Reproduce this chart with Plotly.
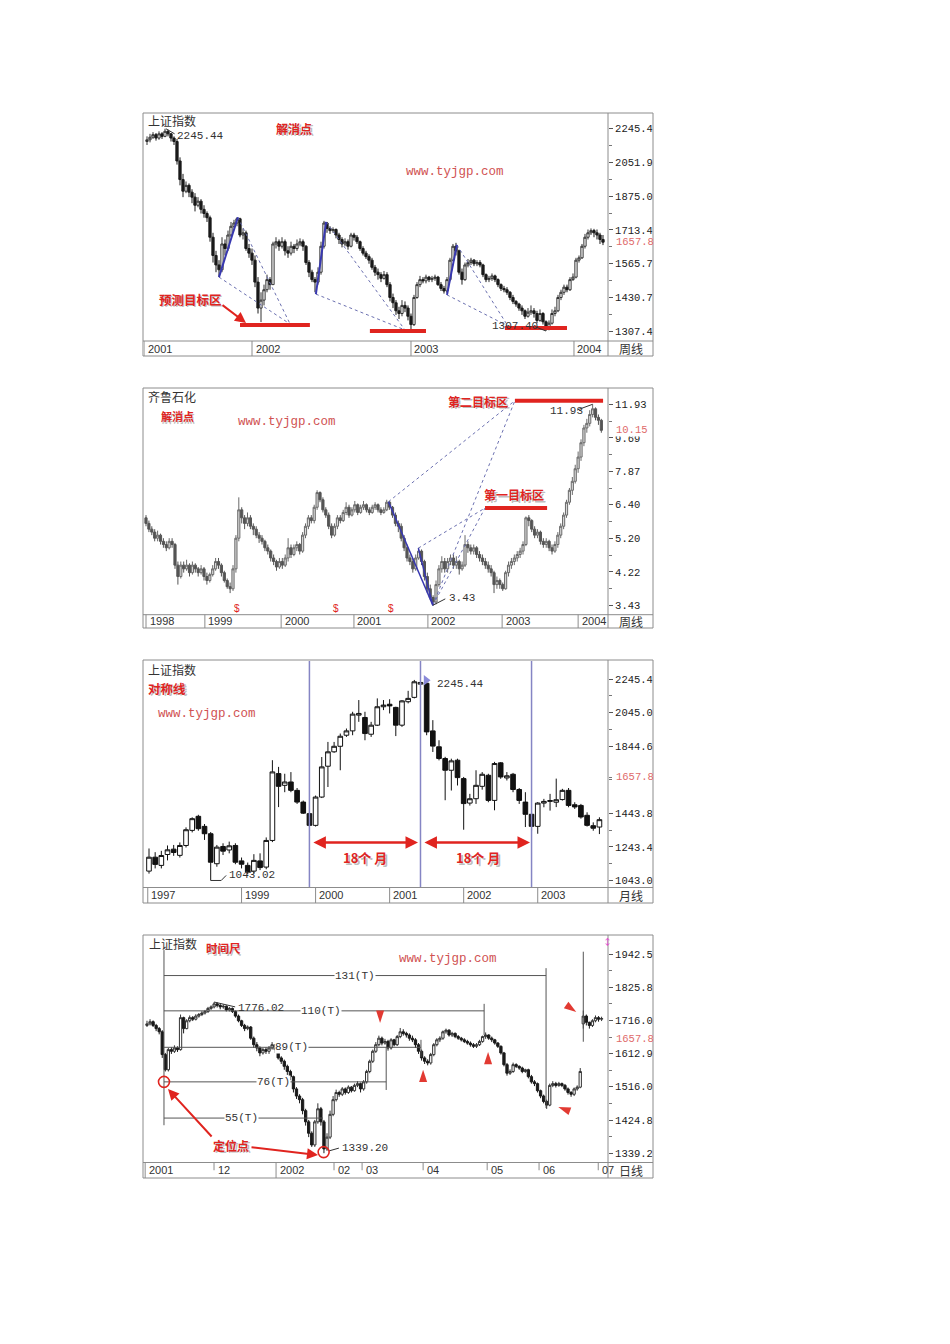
import math
import plotly.graph_objects as go

W, H = 950, 1344
CJK = "Noto Sans CJK SC"
MONO = "Liberation Mono"
SANS = "Liberation Sans"
RED = "#e0241f"
WWW_RED = "#d05252"
DOT = "#6b70b0"
BLUE = "#3838b0"

# ---------------- Panel 1 : 上证指数 周线 ----------------
p1_open0 = 2170
p1_close = [2180,2195,2210,2190,2215,2200,2230,2215,2190,2170,
            2060,1960,1900,1930,1895,1870,1830,1850,1810,1790,
            1770,1680,1600,1560,1540,1650,1630,1690,1730,1745,
            1765,1690,1700,1630,1610,1580,1490,1390,1420,1460,
            1500,1480,1650,1660,1640,1660,1620,1610,1640,1630,
            1650,1660,1640,1570,1530,1500,1490,1530,1640,1745,
            1720,1710,1715,1690,1670,1650,1660,1640,1690,1680,
            1660,1630,1610,1595,1580,1550,1530,1520,1505,1520,
            1480,1430,1410,1380,1370,1400,1390,1360,1330,1430,
            1480,1500,1495,1510,1500,1505,1510,1480,1465,1455,
            1500,1580,1640,1620,1530,1500,1560,1570,1580,1565,
            1570,1560,1520,1500,1505,1515,1500,1480,1465,1460,
            1450,1430,1415,1405,1390,1380,1360,1375,1380,1370,
            1345,1370,1340,1315,1335,1370,1380,1430,1450,1470,
            1460,1500,1510,1580,1590,1640,1680,1700,1710,1700,
            1690,1670,1657.8]
p1_high = [2200,2215,2225,2220,2230,2225,2245.44,2240,2220,2200,
           2185,2080,1990,1950,1940,1910,1890,1870,1860,1830,
           1800,1780,1700,1620,1580,1680,1670,1710,1750,1760,
           1772,1770,1720,1710,1650,1630,1600,1510,1450,1480,
           1520,1510,1660,1680,1670,1680,1670,1640,1660,1650,
           1670,1675,1670,1645,1580,1540,1510,1550,1660,1755,
           1750,1730,1725,1720,1700,1680,1675,1670,1700,1700,
           1690,1665,1640,1620,1605,1590,1560,1545,1530,1535,
           1530,1490,1445,1420,1395,1420,1415,1400,1370,1440,
           1490,1515,1510,1520,1515,1515,1520,1515,1490,1475,
           1510,1590,1650,1655,1625,1545,1570,1585,1590,1585,
           1580,1580,1565,1525,1515,1525,1520,1505,1485,1475,
           1470,1455,1440,1420,1410,1400,1385,1390,1400,1390,
           1380,1385,1375,1345,1345,1385,1395,1440,1460,1480,
           1480,1510,1525,1590,1600,1650,1695,1715,1720,1718,
           1715,1700,1690]
p1_low = [2150,2165,2185,2175,2180,2185,2195,2200,2170,2150,
          2040,1930,1870,1890,1870,1840,1800,1820,1790,1770,
          1750,1660,1570,1530,1510,1530,1600,1620,1680,1720,
          1730,1680,1670,1620,1590,1560,1470,1370,1339,1400,
          1450,1460,1480,1630,1620,1630,1600,1590,1600,1610,
          1620,1640,1620,1560,1510,1490,1450,1480,1520,1630,
          1700,1695,1700,1675,1650,1635,1640,1625,1635,1665,
          1650,1620,1600,1585,1565,1540,1515,1500,1490,1500,
          1470,1415,1390,1365,1350,1360,1375,1345,1310,1325,
          1425,1470,1485,1485,1490,1490,1495,1475,1455,1445,
          1447,1495,1575,1600,1520,1480,1495,1550,1560,1555,
          1555,1550,1510,1490,1490,1495,1490,1470,1455,1450,
          1440,1420,1405,1395,1380,1365,1350,1355,1365,1355,
          1335,1340,1330,1307.4,1310,1330,1360,1375,1420,1440,
          1450,1455,1495,1505,1570,1585,1630,1670,1690,1680,
          1670,1650,1645]
p1_yticks = [2245.4, 2051.9, 1875.0, 1713.4, 1565.7, 1430.7, 1307.4]
p1_last = 1657.8
p1_dates = [(-1, "2001"), (35, "2002"), (88, "2003"), (142.33, "2004")]
p1_blue = [((24, 1510), (30.3, 1772)), ((56.3, 1443), (59.7, 1750)), ((100, 1440), (103.3, 1646))]
p1_dash = [((24, 1510), (47.7, 1332)), ((30.3, 1772), (47.7, 1332)),
           ((56.3, 1443), (86, 1311)), ((59.7, 1750), (86, 1311)),
           ((100, 1440), (120.3, 1325)), ((103.3, 1646), (120.3, 1325))]
p1_targets = [((31, 1328.6), (54.3, 1328.6)), ((74.3, 1307.4), (93, 1307.4)), ((119.3, 1318), (140, 1318))]
p1_conn = [((6.3, 2245.44), (9.2, 2215)), ((129.5, 1322), (133, 1307.4))]

# ---------------- Panel 2 : 齐鲁石化 周线 ----------------
p2_open0 = 5.9
p2_close = [5.7,5.5,5.4,5.2,5.3,5.1,5.0,4.9,5.1,5.0,
            4.4,4.1,4.4,4.3,4.4,4.2,4.4,4.3,4.2,4.3,
            4.1,4.0,4.15,4.3,4.5,4.4,4.2,4.0,3.85,3.8,
            4.3,5.2,6.2,5.9,5.7,5.9,5.6,5.5,5.3,5.2,
            5.1,4.9,4.8,4.6,4.5,4.35,4.5,4.4,4.6,4.9,
            4.7,4.9,5.0,4.8,5.3,5.6,5.9,5.8,6.3,6.9,
            6.6,6.2,6.0,5.6,5.3,5.6,5.9,5.8,6.1,6.3,
            6.0,6.2,6.4,6.1,6.3,6.4,6.2,6.1,6.3,6.4,
            6.2,6.1,6.2,6.5,6.3,6.0,5.7,5.6,5.2,4.9,
            4.6,4.5,4.3,4.6,4.8,4.5,4.1,3.8,3.6,3.5,
            3.9,4.3,4.5,4.3,4.5,4.6,4.4,4.5,4.3,4.4,
            5.0,4.9,4.8,4.9,4.7,4.6,4.5,4.4,4.3,4.2,
            3.9,4.0,3.9,3.8,4.2,4.4,4.5,4.6,4.7,4.8,
            5.0,5.9,5.8,5.5,5.3,5.4,5.1,5.0,5.1,4.9,
            4.8,5.0,5.3,5.6,6.0,6.5,7.0,7.4,8.0,8.6,
            9.4,10.3,10.6,11.2,11.6,11.0,10.8,10.15]
p2_high = [6.0,5.8,5.6,5.5,5.45,5.35,5.2,5.1,5.2,5.2,
           5.05,4.5,4.5,4.5,4.55,4.45,4.5,4.45,4.35,4.4,
           4.35,4.2,4.2,4.4,4.6,4.6,4.45,4.25,4.05,3.95,
           4.4,5.3,6.7,6.3,6.0,6.1,6.0,5.7,5.6,5.4,
           5.3,5.15,5.0,4.85,4.7,4.55,4.6,4.6,4.7,5.2,
           5.0,5.0,5.1,5.05,5.4,5.7,6.0,6.0,6.4,7.0,
           6.95,6.7,6.3,6.1,5.7,5.7,6.0,6.0,6.2,6.5,
           6.4,6.3,6.55,6.45,6.4,6.55,6.45,6.3,6.4,6.5,
           6.45,6.3,6.3,6.6,6.55,6.35,6.1,5.8,5.7,5.3,
           5.0,4.7,4.6,4.7,4.9,4.85,4.55,4.2,3.9,3.65,
           4.0,4.4,4.65,4.6,4.6,4.7,4.7,4.65,4.55,4.5,
           5.3,5.1,5.0,5.0,4.95,4.8,4.7,4.6,4.5,4.4,
           4.25,4.1,4.05,3.95,4.25,4.5,4.6,4.7,4.8,4.9,
           5.1,5.95,6.0,5.85,5.6,5.5,5.45,5.2,5.2,5.15,
           5.0,5.1,5.4,5.7,6.1,6.6,7.1,7.6,8.2,8.9,
           9.6,10.5,10.9,11.5,11.93,11.7,11.2,10.9]
p2_low = [5.6,5.4,5.3,5.1,5.1,5.0,4.9,4.8,4.85,4.9,
          4.3,3.9,4.05,4.2,4.25,4.1,4.15,4.2,4.1,4.15,
          4.0,3.9,3.95,4.1,4.25,4.3,4.1,3.95,3.8,3.7,
          3.75,4.2,5.1,5.7,5.5,5.6,5.5,5.3,5.2,5.05,
          5.0,4.8,4.7,4.5,4.4,4.25,4.3,4.3,4.35,4.5,
          4.6,4.65,4.8,4.7,4.75,5.2,5.5,5.7,5.7,6.2,
          6.5,6.1,5.9,5.5,5.2,5.25,5.5,5.7,5.75,6.0,
          5.9,5.95,6.1,6.0,6.05,6.2,6.1,6.0,6.05,6.2,
          6.1,6.0,6.05,6.15,6.2,5.9,5.6,5.4,5.1,4.8,
          4.5,4.4,4.2,4.25,4.55,4.4,4.0,3.7,3.55,3.43,
          3.45,3.85,4.2,4.2,4.2,4.4,4.3,4.3,4.15,4.25,
          4.35,4.75,4.7,4.7,4.6,4.5,4.4,4.3,4.2,4.1,
          3.7,3.8,3.8,3.75,3.78,4.1,4.3,4.4,4.5,4.6,
          4.7,4.95,5.6,5.4,5.2,5.2,5.0,4.9,4.9,4.8,
          4.7,4.75,4.9,5.2,5.5,5.9,6.4,6.8,7.3,7.8,
          8.4,9.2,10.0,10.4,11.0,10.8,10.5,10.0]
p2_yticks = [11.93, 9.69, 7.87, 6.40, 5.20, 4.22, 3.43]
p2_last = 10.15
p2_dates = [(0, "1998"), (20.3, "1999"), (46.6, "2000"), (71.7, "2001"),
            (97.2, "2002"), (122.8, "2003"), (149.0, "2004")]
p2_blue = [((83.6, 6.52), (98.9, 3.43)), ((93.9, 4.89), (98.9, 3.43))]
p2_dash = [((83.6, 6.52), (127.2, 12.2)), ((98.9, 3.43), (127.2, 12.2)),
           ((93.9, 4.89), (116.9, 6.27)), ((98.9, 3.43), (116.9, 6.27))]
p2_targets = [((127.2, 12.2), (157.6, 12.2)), ((116.9, 6.27), (138.3, 6.27))]
p2_conn = [((148.6, 11.51), (154, 11.93)), ((98.9, 3.43), (103.2, 3.57))]
p2_dollar = [31.4, 65.5, 84.5]

# ---------------- Panel 3 : 上证指数 月线 ----------------
p3_open = [1099,1182,1133,1198,1230,1193,1252,1342,1426,1366,
           1322,1143,1246,1225,1252,1160,1133,1099,1160,1123,
           1282,1681,1611,1631,1581,1511,1442,1372,1541,1725,
           1811,1844,1910,1936,2030,2016,1916,1970,2080,2095,
           2076,1970,2110,2136,2215,2220,1936,1841,1771,1701,
           1761,1651,1505,1531,1605,1671,1521,1745,1655,1677,
           1586,1511,1438,1366,1505,1515,1510,1526,1581,1495,
           1491,1432,1370,1362]
p3_high = [1234,1212,1220,1252,1255,1270,1360,1420,1435,1380,
           1332,1255,1265,1275,1265,1180,1150,1200,1205,1300,
           1761,1721,1680,1690,1595,1520,1450,1550,1780,1870,
           1870,1920,1950,2050,2120,2050,1990,2130,2120,2125,
           2080,2120,2175,2240,2245.44,2230,2000,1880,1781,1770,
           1770,1661,1560,1701,1690,1680,1751,1750,1690,1685,
           1595,1570,1450,1511,1530,1560,1651,1590,1595,1510,
           1500,1450,1390,1420]
p3_low = [1084,1115,1115,1163,1190,1180,1240,1330,1340,1285,
          1043.02,1125,1195,1205,1140,1115,1080,1085,1105,1110,
          1272,1481,1570,1570,1500,1440,1365,1365,1535,1601,
          1805,1701,1900,1910,1990,1880,1900,1965,2060,2040,
          1905,1960,2100,2130,2180,1910,1810,1760,1522,1580,
          1610,1346,1490,1500,1585,1510,1462,1650,1640,1570,
          1500,1362,1340,1322,1480,1460,1481,1520,1480,1470,
          1412,1365,1340,1320]
p3_close = [1182,1139,1192,1226,1210,1252,1346,1412,1352,1322,
            1152,1242,1218,1250,1152,1140,1093,1163,1120,1282,
            1691,1605,1631,1581,1511,1445,1372,1541,1721,1811,
            1844,1904,1936,2036,2040,1920,1970,2080,2090,2085,
            1970,2115,2130,2229,2225,1930,1845,1771,1701,1757,
            1657,1502,1531,1611,1677,1521,1741,1661,1668,1586,
            1521,1438,1366,1505,1515,1520,1525,1581,1491,1482,
            1422,1372,1355,1406]
p3_yticks = [2245.4, 2045.0, 1844.6, 1443.8, 1243.4, 1043.0]
p3_last = 1657.8
p3_dates = [(-0.2, "1997"), (15, "1999"), (27, "2000"), (39, "2001"), (51, "2002"), (63, "2003")]
p3_sym = [26, 44, 62]
p3_arrows = [(26.4, 43.6), (44.4, 61.75)]
p3_arrow_y = 1270
p3_conn = [((10, 1043.02), (11.7, 1043.02)), ((11.7, 1043.02), (12.5, 1073))]

# ---------------- Panel 4 : 上证指数 日线 ----------------
p4_open0 = 1700
p4_gap_open = {143: 1705}
p4_close = [1705,1712,1700,1690,1680,1610,1565,1625,1620,1630,
            1625,1725,1690,1715,1725,1720,1730,1735,1740,1745,
            1755,1760,1770,1765,1760,1762,1750,1755,1745,1730,
            1715,1700,1690,1695,1660,1640,1630,1615,1625,1620,
            1630,1640,1625,1600,1590,1575,1560,1545,1510,1490,
            1480,1450,1420,1390,1360,1420,1455,1420,1350,1380,
            1440,1480,1500,1495,1510,1500,1515,1505,1520,1525,
            1510,1530,1560,1590,1620,1640,1660,1645,1650,1630,
            1655,1640,1665,1680,1675,1670,1660,1655,1640,1620,
            1600,1590,1585,1610,1640,1655,1660,1680,1685,1670,
            1675,1665,1660,1655,1650,1645,1640,1635,1640,1650,
            1665,1670,1660,1655,1645,1635,1615,1580,1555,1560,
            1580,1575,1570,1560,1565,1545,1530,1525,1505,1490,
            1475,1465,1520,1525,1520,1525,1520,1510,1500,1495,
            1510,1515,1560,1730,1710,1700,1715,1725,1720,1722]
p4_high = [1715,1720,1716,1705,1695,1685,1615,1630,1632,1638,
           1635,1735,1728,1720,1732,1730,1736,1740,1746,1750,
           1760,1765,1776.02,1775,1770,1768,1765,1760,1758,1748,
           1735,1718,1705,1700,1698,1665,1648,1635,1630,1632,
           1636,1648,1642,1628,1605,1595,1580,1565,1548,1515,
           1495,1485,1455,1425,1395,1425,1470,1460,1425,1390,
           1450,1490,1508,1505,1515,1514,1520,1518,1525,1532,
           1528,1535,1565,1595,1625,1648,1668,1665,1658,1655,
           1660,1658,1670,1692,1688,1680,1675,1668,1660,1645,
           1625,1605,1596,1615,1645,1660,1666,1684,1690,1688,
           1680,1678,1670,1664,1660,1655,1650,1645,1645,1655,
           1668,1678,1672,1665,1658,1648,1638,1618,1585,1566,
           1586,1584,1578,1574,1568,1568,1550,1535,1528,1508,
           1494,1480,1525,1532,1530,1530,1528,1524,1514,1504,
           1514,1520,1570,1748,1735,1712,1720,1732,1730,1728]
p4_low = [1695,1700,1695,1682,1672,1600,1560,1560,1612,1615,
          1618,1622,1675,1688,1710,1714,1716,1725,1730,1735,
          1740,1750,1755,1758,1752,1754,1745,1745,1740,1725,
          1710,1695,1682,1685,1655,1630,1620,1605,1610,1612,
          1612,1625,1615,1595,1582,1565,1550,1535,1500,1482,
          1470,1440,1410,1380,1355,1355,1415,1410,1339.2,1345,
          1375,1435,1475,1488,1490,1494,1496,1500,1502,1515,
          1500,1505,1525,1555,1585,1615,1635,1638,1640,1622,
          1625,1635,1636,1660,1668,1662,1652,1648,1630,1612,
          1592,1582,1578,1580,1605,1635,1648,1655,1674,1665,
          1664,1660,1655,1650,1645,1640,1634,1630,1630,1636,
          1646,1658,1655,1648,1640,1630,1610,1575,1548,1550,
          1556,1570,1565,1555,1556,1540,1525,1518,1500,1484,
          1470,1455,1462,1515,1514,1516,1515,1505,1494,1488,
          1490,1505,1512,1690,1700,1690,1695,1710,1712,1714]
p4_yticks = [1942.5, 1825.8, 1716.0, 1612.9, 1516.0, 1424.8, 1339.2]
p4_last = 1657.8
p4_dates = [(-0.6, "2001", True), (21.97, "12", False), (42.3, "2002", True), (61.3, "02", False),
            (70.5, "03", False), (90.5, "04", False), (111.5, "05", False), (128.5, "06", False),
            (147.9, "07", False)]
p4_origin = 5.57
p4_rulers = [(1866, 130.8, "131(T)", 68.2, 1892, 1457),
             (1747, 110.5, "110(T)", 57.0, 1770, 1670),
             (1632, 89.8, "89(T)", 47.2, 1655, 1603),
             (1530, 78.4, "76(T)", 41.3, 1632, 1507),
             (1430, 57.7, "55(T)", 31.1, 1430, 1430)]
p4_origin_span = (1957, 1411)
p4_extra_line = (143, 1951, 1649)
p4_circles = [(5.57, 1530), (57.9, 1342)]
p4_marks = [(76.4, 1708, 180), (90.5, 1565, 0), (111.8, 1618, 0), (134.8, 1460, 290), (140.7, 1743, 125)]
p4_conn = [((22, 1776.02), (28.9, 1760)), ((59.7, 1345), (62.9, 1352))]

# ---------------- layout geometry (pixels) ----------------
PX_L, PX_R, FR_L, FR_R = 144, 608, 143, 653
panels = [
    dict(ptop=114, pbot=341, ftop=113, fbot=356, xr=[-1, 153.67], yr=[3.1048, 3.3684], log=True,
         ticks=p1_yticks, fmt="{:.1f}", last=p1_last, tag="周线"),
    dict(ptop=389, pbot=614.7, ftop=388, fbot=628, xr=[-0.69, 159.3], yr=[0.5100, 1.1178], log=True,
         ticks=p2_yticks, fmt="{:.2f}", last=p2_last, tag="周线"),
    dict(ptop=661, pbot=887.5, ftop=660, fbot=903, xr=[-0.81, 74.39], yr=[1001.1, 2353.1], log=False,
         ticks=p3_yticks, fmt="{:.1f}", last=p3_last, tag="月线"),
    dict(ptop=936, pbot=1162.5, ftop=935, fbot=1178, xr=[-0.98, 151.1], yr=[3.1193, 3.3030], log=True,
         ticks=p4_yticks, fmt="{:.1f}", last=p4_last, tag="日线"),
]


def xa(n):
    return "x" if n == 1 else f"x{n}"


def ya(n):
    return "y" if n == 1 else f"y{n}"


def py(p):
    return 1 - p / H


def opens_from(open0, closes, gaps=None):
    o = [open0] + closes[:-1]
    if gaps:
        for k, v in gaps.items():
            o[k] = v
    return o


def candle(n, o, h, l, c, up_line, dn_line, up_fill="white", dn_fill=None):
    hh = [max(a, b, d) for a, b, d in zip(h, o, c)]
    ll = [min(a, b, d) for a, b, d in zip(l, o, c)]
    return go.Candlestick(
        x=list(range(len(c))), open=o, high=hh, low=ll, close=c,
        xaxis=xa(n), yaxis=ya(n), whiskerwidth=0,
        increasing=dict(line=dict(color=up_line, width=1), fillcolor=up_fill),
        decreasing=dict(line=dict(color=dn_line, width=1), fillcolor=dn_fill or dn_line),
        showlegend=False, hoverinfo="skip")


def segs(n, pairs, color, width, dash=None):
    xs, ys = [], []
    for (x0, y0), (x1, y1) in pairs:
        xs += [x0, x1, None]
        ys += [y0, y1, None]
    return go.Scatter(x=xs, y=ys, mode="lines", xaxis=xa(n), yaxis=ya(n),
                      line=dict(color=color, width=width, dash=dash),
                      showlegend=False, hoverinfo="skip")


traces = []
traces.append(candle(1, opens_from(p1_open0, p1_close), p1_high, p1_low, p1_close, "#333333", "#1a1a1a"))
traces.append(candle(2, opens_from(p2_open0, p2_close), p2_high, p2_low, p2_close, "#6a6a6a", "#555555", up_fill="#d8d8d8"))
traces.append(candle(3, p3_open, p3_high, p3_low, p3_close, "#111111", "#111111"))
traces.append(candle(4, opens_from(p4_open0, p4_close, p4_gap_open), p4_high, p4_low, p4_close, "#333333", "#1a1a1a"))

# panel 1 overlays
traces.append(segs(1, p1_dash, DOT, 1, "dot"))
traces.append(segs(1, p1_blue, BLUE, 2))
traces.append(segs(1, p1_targets, RED, 4))
traces.append(segs(1, p1_conn, "#333333", 1))
# panel 2 overlays
traces.append(segs(2, p2_dash, DOT, 1, "dot"))
traces.append(segs(2, p2_blue, BLUE, 1.5))
traces.append(segs(2, p2_targets, RED, 4))
traces.append(segs(2, p2_conn, "#333333", 1))
# panel 3 overlays
traces.append(segs(3, [((v, panels[2]["yr"][0]), (v, panels[2]["yr"][1])) for v in p3_sym], "#8585c4", 1.5))
traces.append(segs(3, p3_conn, "#333333", 1))
traces.append(go.Scatter(x=[44.9], y=[2238], mode="markers", xaxis="x3", yaxis="y3",
                         marker=dict(symbol="triangle-right", size=9, color="#8a8ad8"),
                         showlegend=False, hoverinfo="skip"))
# panel 4 overlays
rul = []
for yv, xend, _, _, vtop, vbot in p4_rulers:
    rul.append(((p4_origin, yv), (xend, yv)))
    if vtop != vbot:
        rul.append(((xend, vtop), (xend, vbot)))
rul.append(((p4_origin, p4_origin_span[0]), (p4_origin, p4_origin_span[1])))
rul.append(((p4_extra_line[0], p4_extra_line[1]), (p4_extra_line[0], p4_extra_line[2])))
traces.append(segs(4, rul, "#555555", 1))
traces.append(segs(4, p4_conn, "#333333", 1))
traces.append(go.Scatter(x=[c[0] for c in p4_circles], y=[c[1] for c in p4_circles], mode="markers",
                         xaxis="x4", yaxis="y4",
                         marker=dict(symbol="circle-open", size=11, color=RED, line=dict(width=1.6, color=RED)),
                         showlegend=False, hoverinfo="skip"))
traces.append(go.Scatter(x=[m[0] for m in p4_marks], y=[m[1] for m in p4_marks], mode="markers",
                         xaxis="x4", yaxis="y4",
                         marker=dict(symbol="arrow", size=13, color="#e23a32", angle=[m[2] for m in p4_marks]),
                         showlegend=False, hoverinfo="skip"))

fig = go.Figure(traces)

ann = []
shapes = []


def ptxt(x, y, s, size=12, color="#333333", family=CJK, xanchor="left", shadow=False, bg=None):
    if shadow:
        ann.append(dict(xref="paper", yref="paper", x=(x + 1.5) / W, y=py(y + 1.5), text=s, showarrow=False,
                        xanchor=xanchor, yanchor="middle",
                        font=dict(size=size, color="rgba(110,110,110,0.45)", family=family)))
    d = dict(xref="paper", yref="paper", x=x / W, y=py(y), text=s, showarrow=False,
             xanchor=xanchor, yanchor="middle", font=dict(size=size, color=color, family=family))
    if bg:
        d["bgcolor"] = bg
    ann.append(d)


def arrow(hx, hy, tx, ty, width=2):
    ann.append(dict(xref="paper", yref="paper", x=hx / W, y=py(hy), ax=tx - hx, ay=ty - hy,
                    axref="pixel", ayref="pixel", text="", showarrow=True, arrowhead=2,
                    arrowsize=1.1, arrowwidth=width, arrowcolor=RED))


layout_axes = {}
for i, p in enumerate(panels):
    n = i + 1
    dom_y = [py(p["pbot"]), py(p["ptop"])]
    xname = "xaxis" if n == 1 else f"xaxis{n}"
    yname = "yaxis" if n == 1 else f"yaxis{n}"
    layout_axes[xname] = dict(domain=[PX_L / W, PX_R / W], range=p["xr"], type="linear", anchor=ya(n),
                              visible=False, rangeslider=dict(visible=False), fixedrange=True)
    tv = p["ticks"]
    if p["log"]:
        mids = [math.sqrt(a * b) for a, b in zip(tv[:-1], tv[1:])]
    else:
        mids = [(a + b) / 2 for a, b in zip(tv[:-1], tv[1:])]
    if n == 3:
        mids = mids + [p["last"]]
    layout_axes[yname] = dict(domain=dom_y, range=p["yr"], type="log" if p["log"] else "linear",
                              anchor=xa(n), side="right", showgrid=False, zeroline=False, showline=False,
                              tickmode="array", tickvals=tv, ticktext=[p["fmt"].format(v) for v in tv],
                              ticks="outside", ticklen=4, tickcolor="#555555", tickwidth=1,
                              tickfont=dict(family=MONO, size=10.5, color="#222222"),
                              minor=dict(tickmode="array", tickvals=mids, ticks="outside", ticklen=3,
                                         tickcolor="#777777", tickwidth=1),
                              fixedrange=True)
    # frame
    shapes.append(dict(type="rect", xref="paper", yref="paper", x0=FR_L / W, x1=FR_R / W,
                       y0=py(p["fbot"]), y1=py(p["ftop"]), line=dict(color="#8c8c8c", width=1)))
    shapes.append(dict(type="line", xref="paper", yref="paper", x0=FR_L / W, x1=FR_R / W,
                       y0=py(p["pbot"]), y1=py(p["pbot"]), line=dict(color="#8c8c8c", width=1)))
    shapes.append(dict(type="line", xref="paper", yref="paper", x0=PX_R / W, x1=PX_R / W,
                       y0=py(p["fbot"]), y1=py(p["ftop"]), line=dict(color="#8c8c8c", width=1)))
    scy = (p["pbot"] + p["fbot"]) / 2
    ptxt(630.5, scy, p["tag"], size=12, color="#333333", xanchor="center")
    # red last-price label
    yv = math.log10(p["last"]) if p["log"] else p["last"]
    ann.append(dict(xref="paper", yref=ya(n), x=614.5 / W, y=yv, text=p["fmt"].format(p["last"]) if n != 2 else "10.15",
                    showarrow=False, xanchor="left", yanchor="middle", bgcolor="white" if n == 2 else None,
                    borderpad=0, font=dict(family=MONO, size=10.5, color="#e06a6a")))

# date strips
def strip_labels(n, items, pbot, fbot):
    scy = (pbot + fbot) / 2
    for it in items:
        x, lab = it[0], it[1]
        full = it[2] if len(it) > 2 else True
        y_top = py(pbot)
        y_bot = py(fbot) if full else py(pbot + (fbot - pbot) * 0.5)
        shapes.append(dict(type="line", xref=xa(n), yref="paper", x0=x, x1=x, y0=y_bot, y1=y_top,
                           line=dict(color="#8c8c8c", width=1)))
        ann.append(dict(xref=xa(n), yref="paper", x=x, y=py(scy), xshift=1.5, text=lab, showarrow=False,
                        xanchor="left", yanchor="middle", font=dict(family=SANS, size=11, color="#333333")))


strip_labels(1, p1_dates, panels[0]["pbot"], panels[0]["fbot"])
strip_labels(2, p2_dates, panels[1]["pbot"], panels[1]["fbot"])
strip_labels(3, p3_dates, panels[2]["pbot"], panels[2]["fbot"])
strip_labels(4, p4_dates, panels[3]["pbot"], panels[3]["fbot"])

# ---- panel 1 texts ----
ptxt(146, 121, "上证指数", size=12)
ptxt(294, 128, "<b>解消点</b>", size=12, color=RED, xanchor="center", shadow=True)
ptxt(455, 172, "www.tyjgp.com", size=12.5, color=WWW_RED, family=MONO, xanchor="center")
ptxt(175, 136, "2245.44", size=11, family=MONO)
ptxt(190, 299, "<b>预测目标区</b>", size=12.5, color=RED, xanchor="center", shadow=True)
arrow(246, 323, 221, 304)
ptxt(515, 326, "1307.40", size=11, family=MONO, xanchor="center")

# ---- panel 2 texts ----
ptxt(146, 396, "齐鲁石化", size=12)
ptxt(177, 416, "<b>解消点</b>", size=11, color=RED, xanchor="center", shadow=True)
ptxt(287, 422, "www.tyjgp.com", size=12.5, color=WWW_RED, family=MONO, xanchor="center")
ptxt(478, 401, "<b>第二目标区</b>", size=12, color=RED, xanchor="center", shadow=True)
ptxt(514, 495, "<b>第一目标区</b>", size=12, color=RED, xanchor="center", shadow=True)
ptxt(548, 411, "11.93", size=11, family=MONO)
ptxt(447, 598, "3.43", size=11, family=MONO)
for xv in p2_dollar:
    ann.append(dict(xref="x2", yref="paper", x=xv, y=py(608.5), text="$", showarrow=False,
                    xanchor="center", yanchor="middle", font=dict(family=SANS, size=10, color=RED)))

# ---- panel 3 texts ----
ptxt(146, 669, "上证指数", size=12)
ptxt(167, 688, "<b>对称线</b>", size=12.5, color=RED, xanchor="center", shadow=True)
ptxt(207, 714, "www.tyjgp.com", size=12.5, color=WWW_RED, family=MONO, xanchor="center")
ptxt(227, 875, "1043.02", size=11, family=MONO)
ptxt(435, 684, "2245.44", size=11, family=MONO)
for x0, x1 in p3_arrows:
    ann.append(dict(xref="x3", yref="y3", axref="x3", ayref="y3", x=x1, y=p3_arrow_y, ax=x0, ay=p3_arrow_y,
                    text="", showarrow=True, arrowhead=2, startarrowhead=2, arrowside="end+start",
                    arrowsize=1, startarrowsize=1, arrowwidth=2.5, arrowcolor=RED))
ptxt(365, 858, "<b>18个 月</b>", size=13, color=RED, xanchor="center", shadow=True)
ptxt(478, 858, "<b>18个 月</b>", size=13, color=RED, xanchor="center", shadow=True)

# ---- panel 4 texts ----
ptxt(147, 944, "上证指数", size=12)
ptxt(223, 948, "<b>时间尺</b>", size=11.5, color=RED, xanchor="center", shadow=True)
ptxt(448, 959, "www.tyjgp.com", size=12.5, color=WWW_RED, family=MONO, xanchor="center")
for yv, xend, lab, xlab, _, _ in p4_rulers:
    ann.append(dict(xref="x4", yref="y4", x=xlab, y=math.log10(yv), text=lab, showarrow=False,
                    xanchor="center", yanchor="middle", bgcolor="white", borderpad=0,
                    font=dict(family=MONO, size=11, color="#333333")))
ptxt(236, 1008, "1776.02", size=11, family=MONO)
ptxt(340, 1148, "1339.20", size=11, family=MONO)
ptxt(231, 1145, "<b>定位点</b>", size=12, color=RED, xanchor="center", shadow=True)
arrow(168, 1089, 213, 1138)
arrow(318, 1155, 250, 1147)
ptxt(607, 941, "↕", size=9, color="#e040d0", xanchor="center")

fig.update_layout(width=W, height=H, margin=dict(l=0, r=0, t=0, b=0), paper_bgcolor="white",
                  plot_bgcolor="white", showlegend=False, annotations=ann, shapes=shapes,
                  boxgap=0.25, boxgroupgap=0, **layout_axes)
fig.write_html("out.html", include_plotlyjs=True, config={"displayModeBar": False})
